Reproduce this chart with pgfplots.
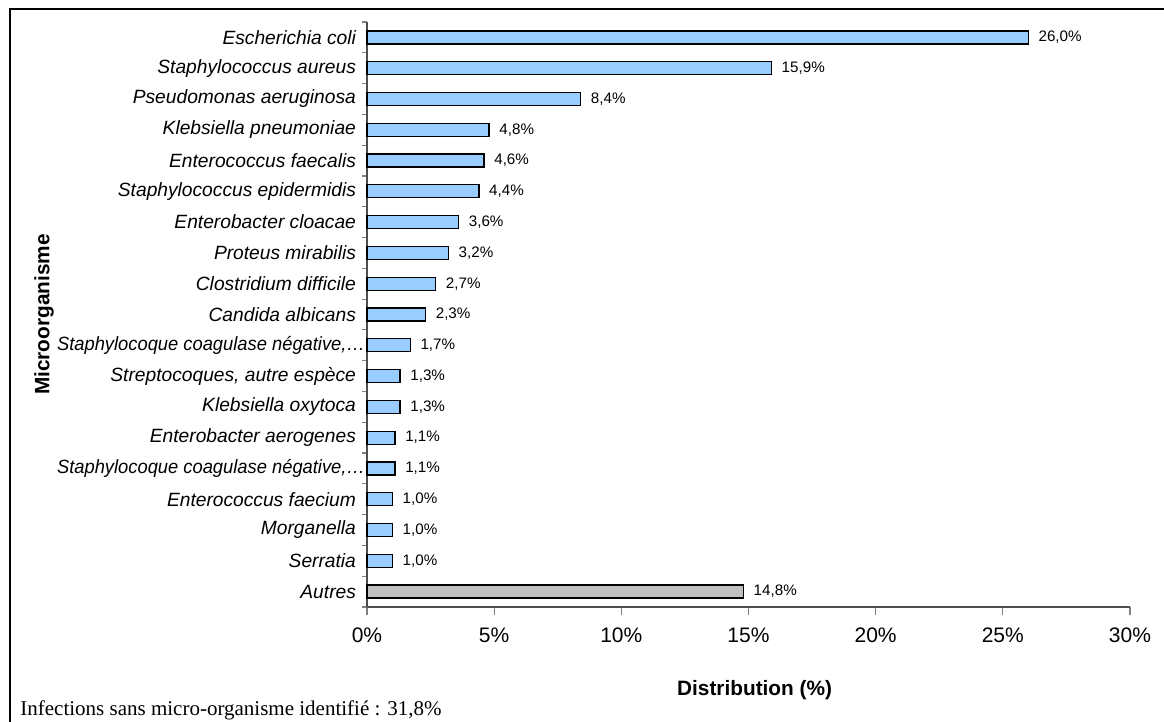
\documentclass[border=0pt]{standalone}
\usepackage{pgfplots}
\pgfplotsset{compat=1.18}
\usepackage{fontspec}
\setmainfont{Liberation Sans}
\newfontfamily\timesfont{Liberation Serif}
\definecolor{barblue}{HTML}{99CCFF}
\definecolor{bargray}{HTML}{C0C0C0}
\definecolor{axisgray}{HTML}{808080}
\newcommand{\longlab}{\scalebox{0.955}[1]{Staphylocoque coagulase négative,…}\hspace*{-4.5pt}}
\begin{document}
\begin{tikzpicture}
\begin{axis}[
    scale only axis,
    width=381.5pt,
    height=292.5pt,
    xbar,
    bar width=6.5pt,
    xmin=0, xmax=30,
    ymin=-0.5, ymax=18.5,
    y dir=reverse,
    axis x line*=bottom,
    axis y line*=left,
    axis line style={axisgray!60!black, line width=0.6pt},
    xtick={0,5,...,30},
    xticklabel={\pgfmathprintnumber{\tick}\%},
    xticklabel style={font=\fontsize{10.5}{12}\selectfont, yshift=-3pt},
    /pgf/number format/assume math mode=true,
    ytick={0,...,18},
    yticklabels={{Escherichia coli },Staphylococcus aureus,Pseudomonas aeruginosa,Klebsiella pneumoniae,Enterococcus faecalis,Staphylococcus epidermidis,Enterobacter cloacae,Proteus mirabilis,Clostridium difficile,Candida albicans,{\longlab},{Streptocoques, autre espèce},Klebsiella oxytoca,Enterobacter aerogenes,{\longlab},Enterococcus faecium,Morganella,Serratia,Autres},
    yticklabel style={font=\fontsize{9.6}{11}\selectfont\itshape, xshift=2pt},
    minor ytick={-0.5,0.5,...,18.5},
    tick align=outside,
    major tick length=4pt,
    minor tick length=2.5pt,
    xtick style={axisgray, line width=0.6pt},
    major y tick style={draw=none},
    minor y tick style={draw=axisgray, line width=0.6pt},
    xlabel={Distribution (\%)},
    xlabel style={font=\fontsize{10.4}{12}\selectfont\bfseries, at={(axis description cs:0.508,0)}, anchor=center, yshift=-41.5pt},
    ylabel={Microorganisme},
    ylabel style={font=\fontsize{10.4}{12}\selectfont\bfseries, at={(axis description cs:0,0.5)}, anchor=center, yshift=161.5pt},
    nodes near coords={\pgfmathprintnumber[fixed,fixed zerofill,precision=1,use comma]{\pgfplotspointmeta}\%},
    nodes near coords style={font=\fontsize{7.6}{9}\selectfont, anchor=west, xshift=1.5pt},
    clip=false,
]
\addplot[bar shift=0pt, fill=barblue, draw=black, line width=0.65pt] coordinates {
    (26.0,0) (15.9,1) (8.4,2) (4.8,3) (4.6,4) (4.4,5) (3.6,6) (3.2,7) (2.7,8)
    (2.3,9) (1.7,10) (1.3,11) (1.3,12) (1.1,13) (1.1,14) (1.0,15) (1.0,16) (1.0,17)
};
\addplot[bar shift=0pt, fill=bargray, draw=black, line width=0.65pt] coordinates {
    (14.8,18)
};
\end{axis}
% outer frame (left and top edges visible)
\draw[line width=1pt] (-178.5pt,-70pt) -- (-178.5pt,299pt) -- (410pt,299pt);
\node[anchor=base west, inner sep=0pt, font=\timesfont\fontsize{10.5}{12}\selectfont] at (-173.5pt,-54.5pt) {Infections sans micro-organisme identifié : 31,8\%};
\pgfresetboundingbox
\useasboundingbox (-183.5pt,-57.5pt) rectangle (398.5pt,303.5pt);
\end{tikzpicture}
\end{document}
